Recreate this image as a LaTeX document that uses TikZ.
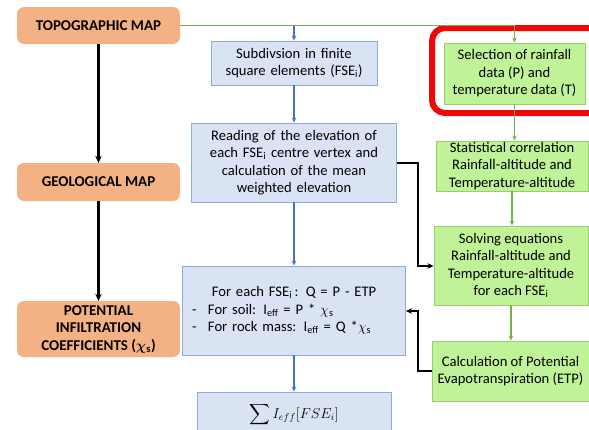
\documentclass[tikz,border=0pt]{standalone}
\usepackage{amsmath}
\usepackage{bm}
\usepackage{fontspec}
\setmainfont{Carlito}
\usetikzlibrary{arrows.meta}
\definecolor{orangefill}{RGB}{244,177,131}
\definecolor{bluefill}{RGB}{218,227,243}
\definecolor{blueedge}{RGB}{143,170,220}
\definecolor{bluearrow}{RGB}{68,114,196}
\definecolor{greenfill}{RGB}{192,242,152}
\definecolor{greenedge}{RGB}{150,208,110}
\definecolor{greenline}{RGB}{118,178,72}
\definecolor{highlight}{RGB}{240,8,8}
\begin{document}
\begin{tikzpicture}[x=1pt,y=-1pt,
  txt/.style={font=\fontsize{14.6}{17.5}\selectfont},
  mapbox/.style={fill=orangefill, rounded corners=7pt, minimum width=163pt,
    align=center, font=\fontsize{15}{17.5}\selectfont\bfseries, inner sep=0pt},
  stepbox/.style={txt, draw=blueedge, fill=bluefill, line width=0.9pt, align=center, inner sep=0pt},
  databox/.style={txt, draw=greenedge, fill=greenfill, line width=0.9pt, align=center, inner sep=0pt},
  bluelink/.style={draw=bluearrow, line width=1.4pt, -{Stealth[length=5pt,width=4.5pt]}},
  greenlink/.style={draw=greenline, line width=1.6pt, -{Stealth[length=5pt,width=4.5pt]}},
  blacklink/.style={draw=black, line width=1.8pt, -{Stealth[length=6pt,width=5.5pt]}},
  maplink/.style={draw=black, line width=2.4pt, -{Stealth[length=7pt,width=6.5pt]}}]
\useasboundingbox (0,0) rectangle (589,429);
\clip (0,0) rectangle (589,429);

% map inputs (left column)
\node[mapbox, minimum height=37pt] (topo) at (98.5,25.5) {TOPOGRAPHIC MAP};
\node[mapbox, minimum height=38pt] (geo) at (98.5,182) {GEOLOGICAL MAP};
\node[mapbox, minimum height=56pt] (pot) at (98.5,329)
  {POTENTIAL\\INFILTRATION\\COEFFICIENTS ($\bm{\chi}_{\mathbf{s}}$)};

% processing steps (middle column)
\node[stepbox, minimum width=166pt, minimum height=44pt, text width=160pt] (sub) at (294,63)
  {Subdivsion in finite\\square elements (FSE\textsubscript{i})};
\node[stepbox, minimum width=205pt, minimum height=79pt, text width=200pt] (read) at (294,162.5)
  {Reading of the elevation of\\each FSE\textsubscript{i} centre vertex and\\calculation of the mean\\weighted elevation};
\node[stepbox, minimum width=223pt, minimum height=89pt, text width=210pt] (each) at (294,310.5)
  {{\centering For each FSE\textsubscript{i}\,: Q = P - ETP\par}
   \raggedright\hspace*{3pt}\makebox[16pt][l]{-}For soil: I\textsubscript{eff} = P * $\chi_{\mathrm{s}}$\par
   \hspace*{3pt}\makebox[16pt][l]{-}For rock mass: I\textsubscript{eff} = Q *$\chi_{\mathrm{s}}$\par};
\node[stepbox, minimum width=194pt, minimum height=45pt] (sum) at (294,414.5)
  {\raisebox{3pt}{$\displaystyle\sum I_{eff}[FSE_i]$}};

% climate data chain (right column)
\node[databox, minimum width=141pt, minimum height=61pt] (sel) at (514.5,73.5)
  {Selection of rainfall\\data (P) and\\temperature data (T)};
\node[databox, minimum width=152pt, minimum height=50pt] (stat) at (512,166)
  {Statistical correlation\\Rainfall-altitude and\\Temperature-altitude};
\node[databox, minimum width=154pt, minimum height=79pt] (solve) at (511,265.5)
  {Solving equations\\Rainfall-altitude and\\Temperature-altitude\\for each FSE\textsubscript{i}};
\node[databox, minimum width=157pt, minimum height=60pt] (etp) at (510.5,371)
  {Calculation of Potential\\Evapotranspiration (ETP)};

% highlight frame around the data selection step
\draw[highlight, line width=6pt, rounded corners=13pt] (432,28) rectangle (604,113);

% connectors
\draw[maplink] (topo) -- (geo);
\draw[maplink] (geo) -- (pot);

\coordinate (split) at (sub.north |- topo.east);
\draw[greenlink] (topo.east) -- (topo.east -| sel.north) -- (sel.north);
\draw[bluelink] (split) -- (sub.north);
\draw[bluelink] (sub) -- (read);
\draw[bluelink] (read) -- (each);
\draw[bluelink] (each) -- (sum);

\draw[greenlink] (sel.south) -- (sel.south |- stat.north);
\draw[greenlink] (stat.south) -- (stat.south |- solve.north);
\draw[greenlink] (solve.south) -- (solve.south |- etp.north);

\coordinate (bendA) at (418,163);
\coordinate (bendB) at (418,266);
\coordinate (bendC) at (418,371);
\coordinate (bendD) at (418,311);
\draw[blacklink] (read.east |- bendA) -- (bendA) -- (bendB) -- (solve.west |- bendB);
\draw[blacklink] (etp.west |- bendC) -- (bendC) -- (bendD) -- (each.east |- bendD);
\end{tikzpicture}
\end{document}
